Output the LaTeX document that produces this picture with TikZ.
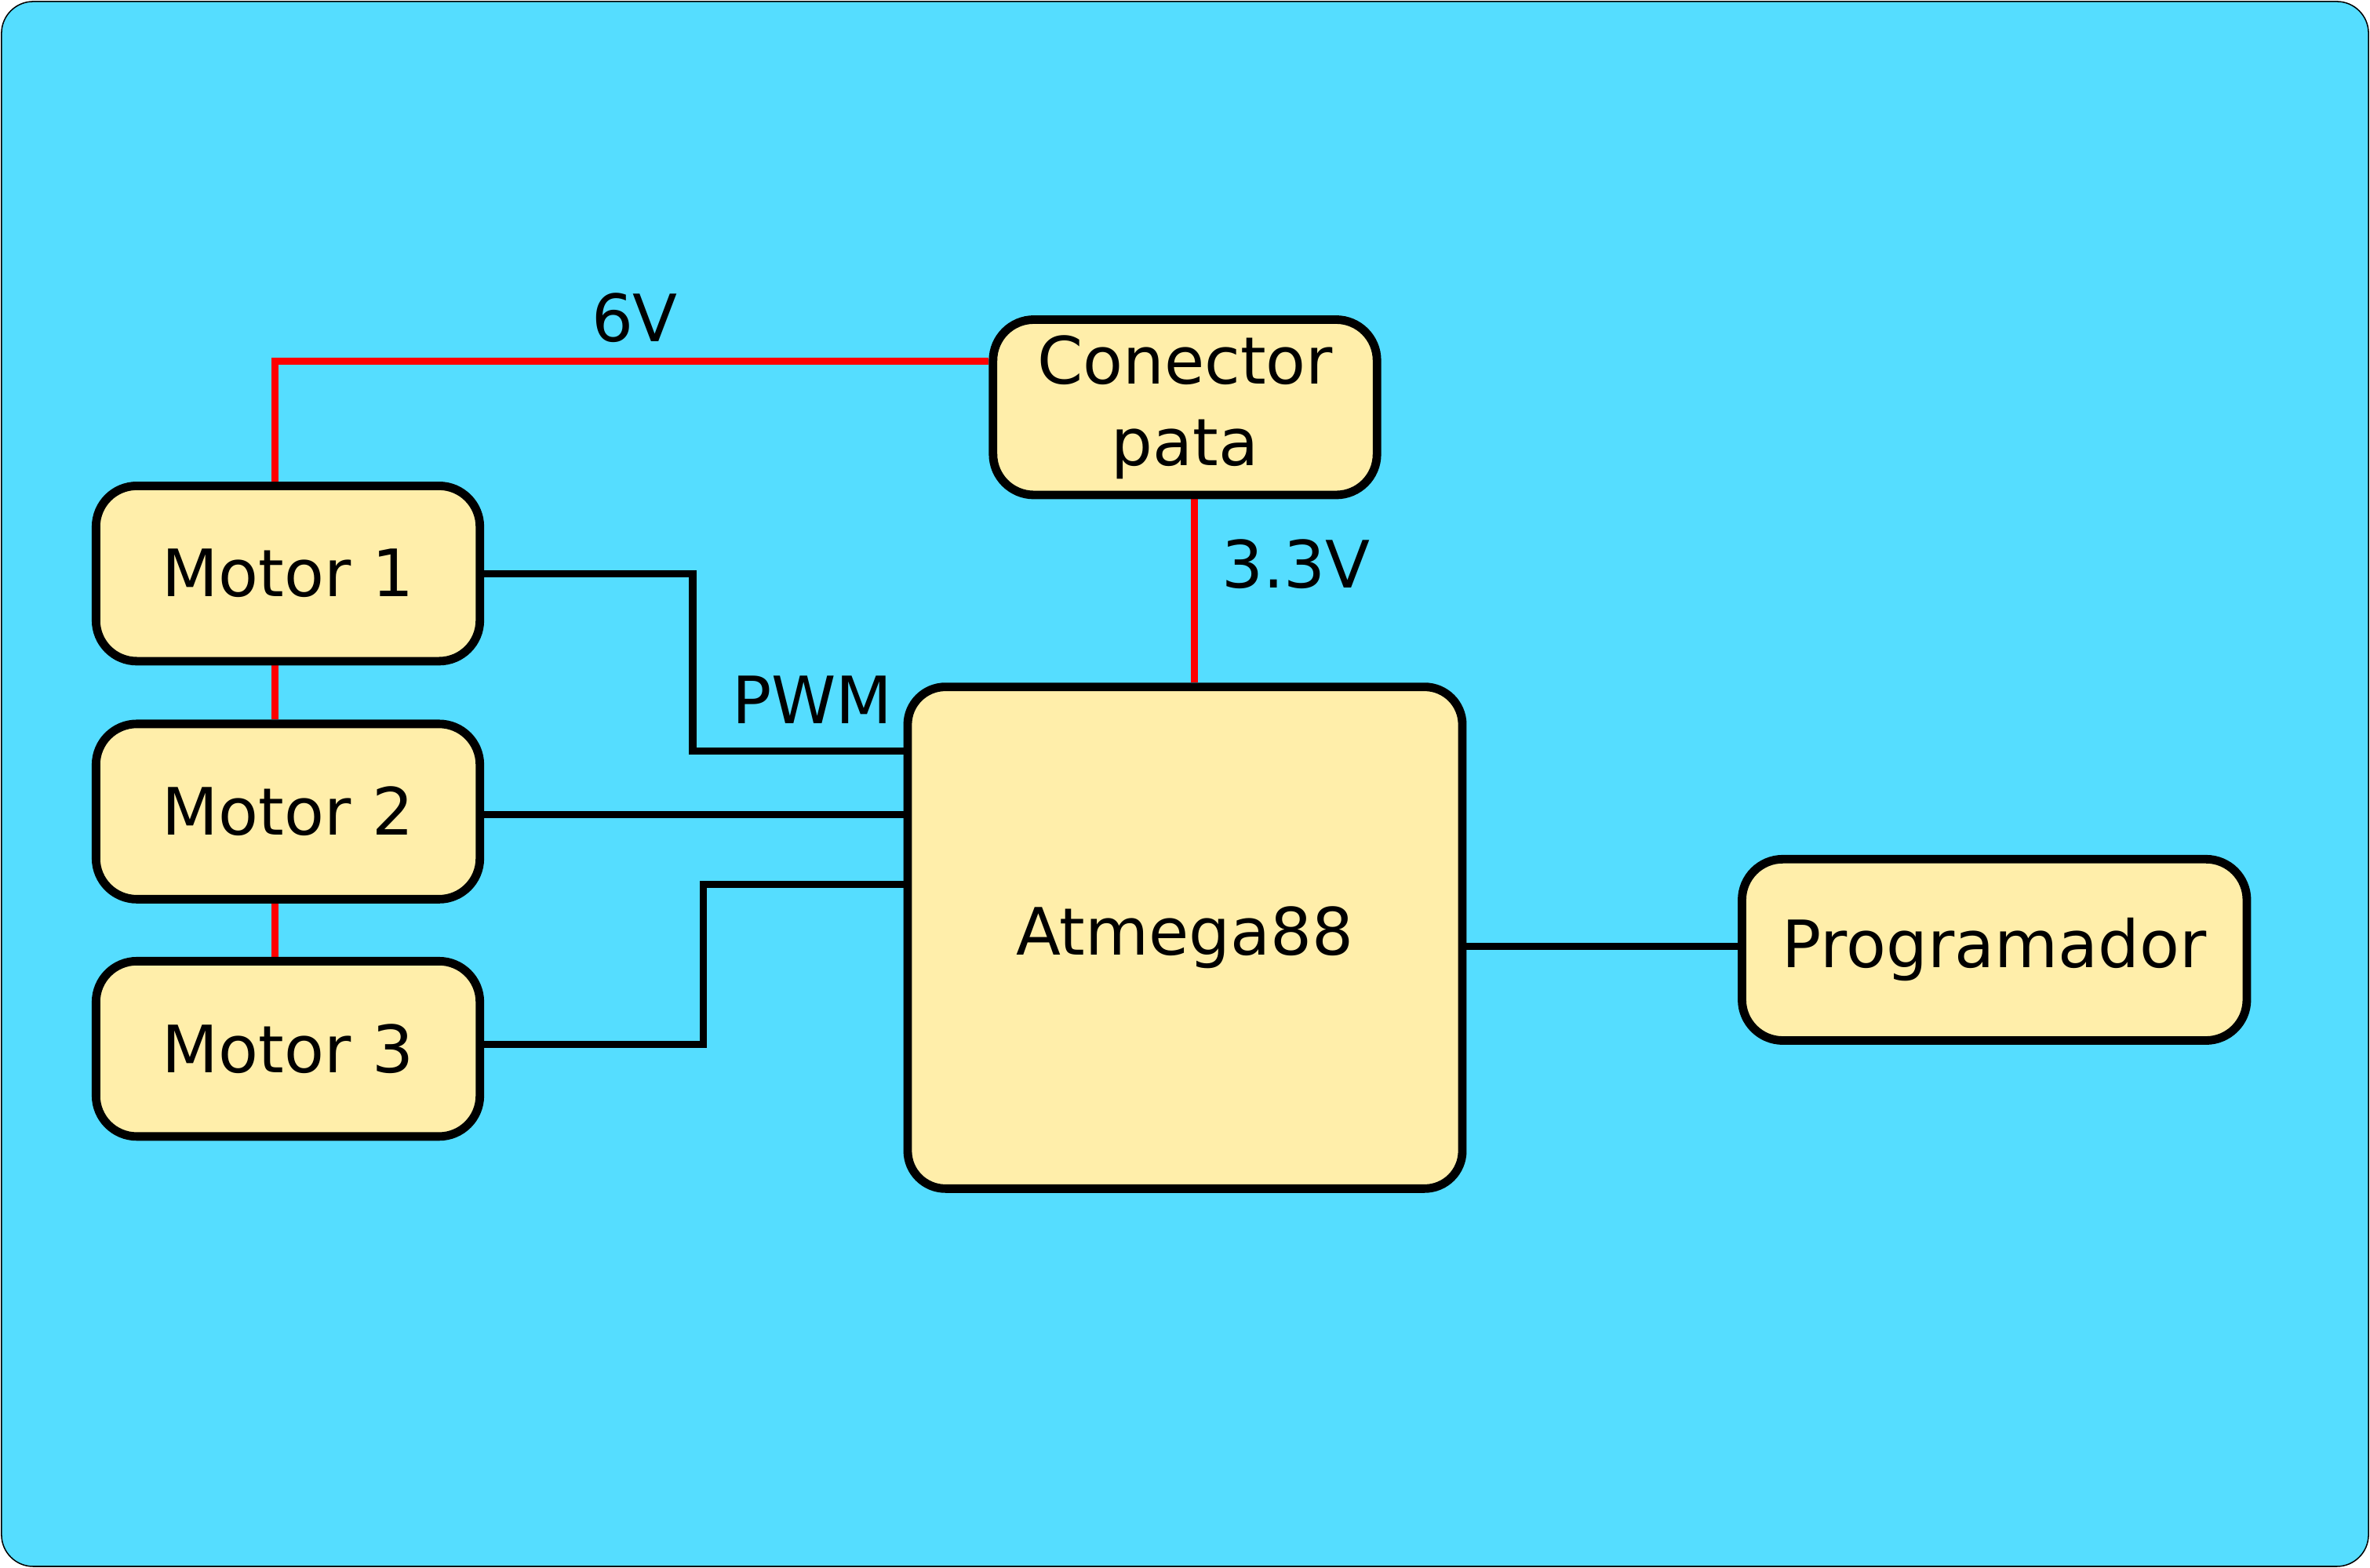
\documentclass[tikz,border=0pt]{standalone}
\usepackage{fontspec}
\setmainfont{DejaVu Sans}
\usetikzlibrary{calc,backgrounds}
\definecolor{sky}{HTML}{55DDFF}
\definecolor{pale}{HTML}{FFEEAA}

\begin{document}
\begin{tikzpicture}
    [
      x = 0.2mm, y = -0.2mm,
      block/.style = {draw, fill=pale, line width=3.2pt, rounded corners=0.54cm,
                      align=center, inner sep=0pt, font=\fontsize{24.6}{30.5}\selectfont},
      power/.style = {draw=red, line width=2.7pt},
      signal/.style = {draw, line width=2.7pt},
      tag/.style = {anchor=base west, inner sep=0pt, font=\fontsize{24.6}{30}\selectfont},
    ]
    \useasboundingbox (0,0) rectangle (1568,1037.5);

    \node[block, minimum width=5.08cm, minimum height=2.32cm] (m1) at (190.5,379.5) {Motor 1};
    \node[block, minimum width=5.08cm, minimum height=2.32cm] (m2) at (190.5,537) {Motor 2};
    \node[block, minimum width=5.08cm, minimum height=2.32cm] (m3) at (190.5,694) {Motor 3};
    \node[block, minimum width=5.08cm, minimum height=2.32cm] (con) at (784,269.5) {Conector\\pata};
    \node[block, minimum width=7.34cm, minimum height=6.64cm, rounded corners=0.5cm] (atm) at (784,620.5) {Atmega88};
    \node[block, minimum width=6.68cm, minimum height=2.4cm] (prog) at (1319.5,628.5) {Programador};

    \node[tag] (v6) at (391,226) {6V};
    \node[tag] (v33) at (808,389) {3.3V};
    \node[tag] (pwm) at (484,479) {PWM};

    \coordinate (rail) at (182,0);
    \coordinate (pin) at ($(prog.west)+(0,-2.5)$);
    \begin{scope}[on background layer]
      \draw[fill=sky, line width=0.45pt, rounded corners=0.42cm] (1,1) rectangle (1567,1036.5);
      \draw[power] (m1.north -| rail) |- ($(con.west)+(0,-30.5)$);
      \draw[power] (m1.south -| rail) -- (m2.north -| rail);
      \draw[power] (m2.south -| rail) -- (m3.north -| rail);
      \draw[power] ($(con.south)+(6,0)$) -- ($(atm.north)+(6,0)$);
      \draw[signal] (m1.east) -- ++(138,0) |- ($(atm.west)+(0,-123.5)$);
      \draw[signal] ($(m2.east)+(0,2)$) -- ($(m2.east -| atm.west)+(0,2)$);
      \draw[signal] ($(m3.east)+(0,-3)$) -- ++(145,0) |- ($(atm.west)+(0,-35.5)$);
      \draw[signal] (pin -| atm.east) -- (pin);
    \end{scope}
\end{tikzpicture}
\end{document}
